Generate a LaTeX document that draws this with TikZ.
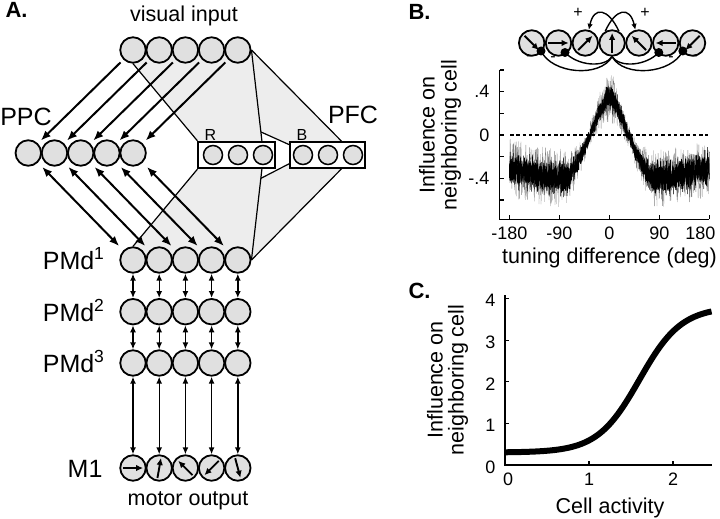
\documentclass[tikz,border=0pt]{standalone}
\usepackage{fontspec}
\setmainfont{Liberation Sans}
\usetikzlibrary{arrows.meta,calc,backgrounds}
\definecolor{cellgray}{gray}{0.88}
\definecolor{shadegray}{gray}{0.93}
\begin{document}
\begin{tikzpicture}[x=1pt,y=-1pt,
  font=\fontsize{21.5}{24}\selectfont,
  cell/.style={circle,draw,line width=1.8pt,fill=cellgray,minimum size=25.5pt,inner sep=0pt},
  smallcell/.style={circle,draw,line width=1.5pt,fill=cellgray,minimum size=19pt,inner sep=0pt},
  boxlayer/.style={draw,line width=1.8pt,fill=white,minimum height=26.6pt,inner sep=0pt},
  bigarrow/.style={line width=2pt,-{Latex[length=10pt,width=8pt]}},
  bigdarrow/.style={line width=2pt,{Latex[length=10pt,width=8pt]}-{Latex[length=10pt,width=8pt]}},
  smalldarrow/.style={line width=1.4pt,{Latex[length=7pt,width=6pt]}-{Latex[length=7pt,width=6pt]}},
  inarrow/.style={line width=1.9pt,-{Latex[length=7pt,width=6.5pt]}},
  netarrow/.style={line width=1.4pt,-{Latex[length=6pt,width=5.5pt]}},
  netline/.style={line width=1.4pt},
  thinline/.style={line width=1.2pt},
  axisline/.style={line width=1.2pt},
  biglabel/.style={font=\fontsize{25}{28}\selectfont},
  ticklabel/.style={font=\fontsize{18}{20}\selectfont},
  smalllabel/.style={font=\fontsize{16}{18}\selectfont},
  panel/.style={font=\fontsize{22}{24}\selectfont\bfseries},
  inhdot/.style={circle,fill=black,inner sep=0pt,minimum size=9pt},
  declare function={
    fb(\t)=0.4*exp(-(\t/45)^2)+0.4*max(0,1-abs(\t)/75)-0.44+0.14*(abs(\t)/180)^2;
    amp(\t)=0.07+0.11*min(1,abs(abs(\t)-37)/45);
    sig(\t)=0.3+3.5/(1+exp(-(\t-1.6)/0.25));
  }
]
\useasboundingbox (0,0) rectangle (720,519);

% ---------------- Panel A ----------------
\node[panel,anchor=base west] (labA) at (2,18) {A.};
\node[anchor=base] (vislab) at (184,21.7) {visual input};
\node[anchor=base] (motlab) at (188,505) {motor output};
\node[biglabel,anchor=base] (ppclab) at (26,125) {PPC};
\node[biglabel,anchor=base] (pfclab) at (353,123) {PFC};
\node[biglabel,anchor=base east] (pmdalab) at (108,269) {PMd\textsuperscript{1}};
\node[biglabel,anchor=base east] (pmdblab) at (108,321) {PMd\textsuperscript{2}};
\node[biglabel,anchor=base east] (pmdclab) at (108,372) {PMd\textsuperscript{3}};
\node[biglabel,anchor=base east] (m1lab) at (106,477) {M1};

\foreach \i [evaluate=\i as \xx using {133+26.2*(\i-1)}] in {1,...,5} {
  \node[cell] (v\i) at (\xx,50) {};
  \node[cell] (q\i) at (\xx-104.7,153) {};
  \node[cell] (pa\i) at (\xx,260) {};
  \node[cell] (pb\i) at (\xx,311.7) {};
  \node[cell] (pc\i) at (\xx,363) {};
  \node[cell] (m\i) at (\xx,468) {};
}

% R and B boxes
\node[boxlayer,minimum width=76.7pt] (Rbox) at (236.65,155) {};
\node[boxlayer,minimum width=75pt] (Bbox) at (327.5,155) {};
\node[smallcell] (ra) at (213,155) {};
\node[smallcell] (rb) at (238,155) {};
\node[smallcell] (rc) at (263,155) {};
\node[smallcell] (ba) at (303,155) {};
\node[smallcell] (bb) at (328,155) {};
\node[smallcell] (bc) at (353,155) {};
\node[smalllabel,anchor=base west] (rlab) at (201,140) {R};
\node[smalllabel,anchor=base west] (blab) at (293,140) {B};

\coordinate (rtop) at (262,141.7);
\coordinate (rbot) at (262,168.3);
\coordinate (btop) at (342,141.7);
\coordinate (bbot) at (342,168.3);
\coordinate (ju) at (261,132);
\coordinate (jl) at (261,178.3);
\coordinate (bju) at (290,145);
\coordinate (bjl) at (290,163.3);

\begin{scope}[on background layer]
  \fill[shadegray] (v1.center) -- (v5.center) -- (v5.east) -- (btop) -- (Bbox.north west) -- (bju) -- (ju) -- (rtop) -- (Rbox.north west) -- (v1.south) -- cycle;
  \fill[shadegray] (pa1.center) -- (pa1.north) -- (Rbox.south west) -- (rbot) -- (jl) -- (bjl) -- (Bbox.south west) -- (bbot) -- (pa5.east) -- (pa5.center) -- cycle;
  \draw[thinline] (v1.south) -- (Rbox.north west);
  \draw[thinline] (v5.east) -- (rtop);
  \draw[thinline] (v5.east) -- (btop);
  \draw[thinline] (ju) -- (bju);
  \draw[thinline] (pa1.north) -- (Rbox.south west);
  \draw[thinline] (pa5.east) -- (rbot);
  \draw[thinline] (pa5.east) -- (bbot);
  \draw[thinline] (jl) -- (bjl);
\end{scope}

\foreach \i in {1,...,5} {
  \draw[bigarrow,shorten <=4pt,shorten >=4pt] (v\i.225) -- (q\i.45);
  \draw[bigdarrow,shorten <=6pt,shorten >=6pt] (q\i.-45) -- (pa\i.135);
  \draw[smalldarrow] (pa\i.south) -- (pb\i.north);
  \draw[smalldarrow] (pb\i.south) -- (pc\i.north);
  \draw[smalldarrow] (pc\i.south) -- (m\i.north);
}
\foreach \i/\a in {1/0,2/80,3/135,4/225,5/285} {
  \pgfmathtruncatemacro{\b}{mod(\a+180,360)}
  \draw[inarrow] ($(m\i.center)!0.74!(m\i.\b)$) -- ($(m\i.center)!0.74!(m\i.\a)$);
}

% ---------------- Panel B ----------------
\node[panel,anchor=base west] (labB) at (405,19.5) {B.};
\foreach \i/\a in {1/315,2/0,3/45,4/90,5/135,6/180,7/225} {
  \node[cell] (c\i) at ({531.7+26.8*(\i-1)},43) {};
  \pgfmathtruncatemacro{\b}{mod(\a+180,360)}
  \draw[inarrow] ($(c\i.center)!0.74!(c\i.\b)$) -- ($(c\i.center)!0.74!(c\i.\a)$);
}
\draw[netarrow] (c4.60) .. controls (608,8) and (594,6) .. (c3.75);
\draw[netarrow] (c4.120) .. controls (615.8,8) and (629.8,6) .. (c5.105);
\node[smalllabel] (plusl) at (578,13) {+};
\node[smalllabel] (plusr) at (645,13) {+};

\coordinate (d1p) at (541,51);
\coordinate (d2p) at (565,52.5);
\coordinate (d3p) at (658.8,52.5);
\coordinate (d4p) at (682.8,51);
\draw[netline] (c4.south) .. controls (604,68) and (578,66) .. (d2p);
\draw[netline] (c4.south) .. controls (600,78) and (552,74) .. (d1p);
\draw[netline] (c4.south) .. controls (619.8,68) and (645.8,66) .. (d3p);
\draw[netline] (c4.south) .. controls (623.8,78) and (671.8,74) .. (d4p);
\node[inhdot] (d1) at (d1p) {};
\node[inhdot] (d2) at (d2p) {};
\node[inhdot] (d3) at (d3p) {};
\node[inhdot] (d4) at (d4p) {};
\node[smalllabel] (m1s) at (529,58) {-};
\node[smalllabel] (m2s) at (553,59) {-};
\node[smalllabel] (m3s) at (671,59) {-};
\node[smalllabel] (m4s) at (695,58) {-};

% plot B
\draw[axisline] (499.5,70) -- (499.5,219.3) -- (709,219.3);
\foreach \v in {0.6,0.4,0.2,0,-0.2,-0.4,-0.6}
  \draw[axisline] (499.5,{135-108.3*\v}) -- ++(4,0);
\foreach \d in {-180,-90,0,90,180}
  \draw[axisline] ({609.3+0.5556*\d},219.3) -- ++(0,-4);
\node[ticklabel,anchor=east] (yb1) at (493,91.7) {.4};
\node[ticklabel,anchor=east] (yb2) at (493,135) {0};
\node[ticklabel,anchor=east] (yb3) at (493,178.3) {-.4};
\foreach \d/\t in {-180/-180,-90/-90,0/0,90/90}
  \node[ticklabel,anchor=base] at ({609.3+0.5556*\d},239.3) {\t};
\node[ticklabel,anchor=base east] (xb180) at (719,239.3) {180};
\node[anchor=base] (xlabB) at (609.5,263.3) {tuning difference (deg)};
\node[rotate=90] (ylabB1) at (427,135) {Influence on};
\node[rotate=90] (ylabB2) at (451,135) {neighboring cell};

\pgfmathsetseed{7}
\draw[line width=0.3pt,black!50] plot[domain=-180:180,samples=700,variable=\t]
  ({609.3+0.5556*\t},{135-108.3*(fb(\t)+1.5*amp(\t)*rand)});
\draw[line width=0.4pt,black] plot[domain=-180:180,samples=2400,variable=\t]
  ({609.3+0.5556*\t},{135-108.3*(fb(\t)+0.55*amp(\t)*(rand+rand))});
\draw[line width=0.5pt,black] plot[domain=-180:180,samples=1200,variable=\t]
  ({609.3+0.5556*\t},{135-108.3*(fb(\t)+0.6*amp(\t)*rand)});
\draw[line width=2.8pt,dash pattern=on 3.5pt off 2.8pt] (510,135) -- (708,135);

% ---------------- Panel C ----------------
\node[panel,anchor=base west] (labC) at (405,298) {C.};
\draw[axisline] (505,295) -- (505,465) -- (711.7,465);
\foreach \v in {1,2,3,4}
  \draw[axisline] (505,{465-41.6*\v}) -- ++(4,0);
\foreach \a in {1,2}
  \draw[axisline] ({505+84*\a},465) -- ++(0,-4);
\foreach \v in {1,2,3,4}
  \node[ticklabel,anchor=east] at (499,{467-41.6*\v}) {\v};
\node[ticklabel,anchor=east] (yc0) at (499,467) {0};
\node[ticklabel,anchor=base] (xc0) at (508,485) {0};
\node[ticklabel,anchor=base] (xc1) at (589,485) {1};
\node[ticklabel,anchor=base] (xc2) at (673,485) {2};
\node[anchor=base] (xlabC) at (610,513) {Cell activity};
\node[rotate=90] (ylabC1) at (435,380) {Influence on};
\node[rotate=90] (ylabC2) at (458,380) {neighboring cell};
\draw[line width=6pt] plot[domain=0:2.46,samples=120,smooth,variable=\t]
  ({505+84*\t},{465-41.6*sig(\t)});
\end{tikzpicture}
\end{document}
